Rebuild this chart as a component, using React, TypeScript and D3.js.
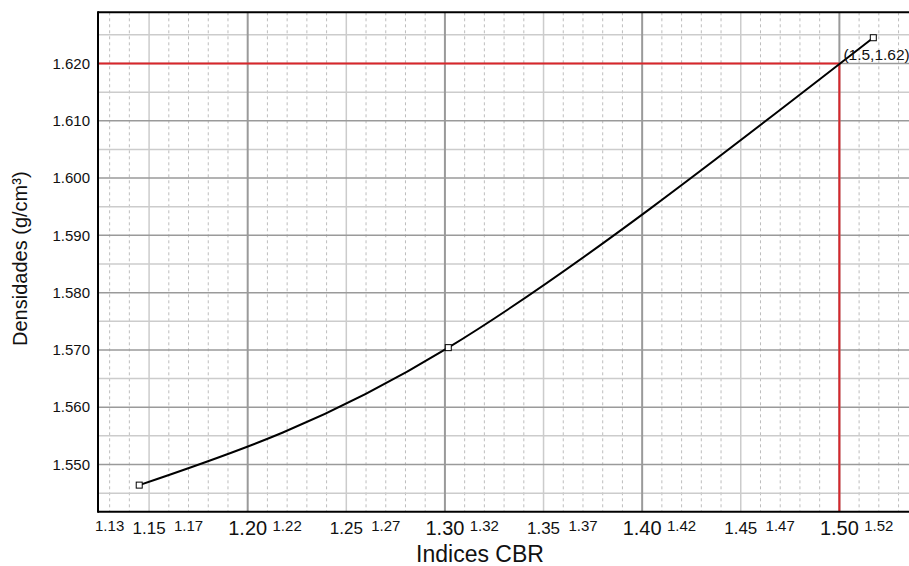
import React from "react";
import * as d3 from "d3";

const cbrValues = [1.145, 1.3017, 1.5172];
const densityValues = [1.5464, 1.5704, 1.6245];
const targetCBR = 1.5;
const targetDensity = 1.62;

const xSmallTicks = [1.13, 1.17, 1.22, 1.27, 1.32, 1.37, 1.42, 1.47, 1.52];
const xMediumTicks = [1.15, 1.25, 1.35, 1.45];
const xLargeTicks = [1.2, 1.3, 1.4, 1.5];
const xDashedGrid = [1.13, 1.14, 1.16, 1.17, 1.18, 1.19, 1.21, 1.22, 1.23, 1.24, 1.26, 1.27, 1.28, 1.29, 1.31, 1.32, 1.33, 1.34, 1.36, 1.37, 1.38, 1.39, 1.41, 1.42, 1.43, 1.44, 1.46, 1.47, 1.48, 1.49, 1.51, 1.52, 1.53];
const yTicks = [1.55, 1.56, 1.57, 1.58, 1.59, 1.6, 1.61, 1.62];
const yMinorGrid = [1.545, 1.555, 1.565, 1.575, 1.585, 1.595, 1.605, 1.615, 1.625];

const W = 909;
const H = 566;
const left = 98;
const right = 909;
const top = 12.3;
const bottom = 511.7;

export default function App() {
  const x = d3.scaleLinear().domain([1.1241, 1.5353]).range([left, right]);
  const y = d3.scaleLinear().domain([1.54176, 1.62894]).range([bottom, top]);
  const pts: [number, number][] = cbrValues.map((c, i) => [c, densityValues[i]]);
  const line = d3
    .line<[number, number]>()
    .x((d) => x(d[0]))
    .y((d) => y(d[1]))
    .curve(d3.curveNatural);
  const font = "'Liberation Sans', Arial, Helvetica, sans-serif";
  return (
    <svg width={W} height={H} style={{ position: "absolute", left: 0, top: 0 }} fontFamily={font}>
      <rect x={0} y={0} width={W} height={H} fill="#fff" />
      {xDashedGrid.map((v) => (
        <line key={"d" + v} x1={x(v)} x2={x(v)} y1={top} y2={bottom} stroke="#bdbdbd" strokeWidth={1} strokeDasharray="3,3" />
      ))}
      {yMinorGrid.map((v) => (
        <line key={"hm" + v} x1={left} x2={right} y1={y(v)} y2={y(v)} stroke="#cccccc" strokeWidth={1.5} />
      ))}
      {xMediumTicks.map((v) => (
        <line key={"vm" + v} x1={x(v)} x2={x(v)} y1={top} y2={bottom} stroke="#cccccc" strokeWidth={1.5} />
      ))}
      {yTicks.map((v) => (
        <line key={"hM" + v} x1={left} x2={right} y1={y(v)} y2={y(v)} stroke="#9a9a9a" strokeWidth={1.5} />
      ))}
      {xLargeTicks.map((v) => (
        <line key={"vM" + v} x1={x(v)} x2={x(v)} y1={top} y2={bottom} stroke="#9a9a9a" strokeWidth={2} />
      ))}
      <line x1={left} x2={x(targetCBR)} y1={y(targetDensity)} y2={y(targetDensity)} stroke="#d9262b" strokeWidth={2} />
      <line x1={x(targetCBR)} x2={x(targetCBR)} y1={y(targetDensity)} y2={bottom} stroke="#d9262b" strokeWidth={2} />
      <path d={line(pts) || ""} fill="none" stroke="#000" strokeWidth={2} />
      {pts.map((p, i) => (
        <rect key={"m" + i} x={x(p[0]) - 3} y={y(p[1]) - 3} width={6} height={6} fill="#fff" stroke="#000" strokeWidth={1} />
      ))}
      <text x={x(targetCBR) + 4} y={y(targetDensity) - 3.5} fontSize={15.5} fill="#111">
        {`(${targetCBR},${targetDensity})`}
      </text>
      <line x1={left} x2={right} y1={top} y2={top} stroke="#000" strokeWidth={2} />
      <line x1={left} x2={left} y1={top - 1} y2={bottom + 1} stroke="#000" strokeWidth={2} />
      <line x1={left} x2={right} y1={bottom} y2={bottom} stroke="#000" strokeWidth={2} />
      {yTicks.map((v) => (
        <text key={"yl" + v} x={90} y={y(v)} dy="0.35em" textAnchor="end" fontSize={15} fill="#111">
          {d3.format(".3f")(v)}
        </text>
      ))}
      {xSmallTicks.map((v) => (
        <text key={"xs" + v} x={x(v)} y={531} textAnchor="middle" fontSize={15} fill="#111">
          {d3.format(".2f")(v)}
        </text>
      ))}
      {xMediumTicks.map((v) => (
        <text key={"xm" + v} x={x(v)} y={533.5} textAnchor="middle" fontSize={17} fill="#111">
          {d3.format(".2f")(v)}
        </text>
      ))}
      {xLargeTicks.map((v) => (
        <text key={"xl" + v} x={x(v)} y={534.5} textAnchor="middle" fontSize={20} fill="#111">
          {d3.format(".2f")(v)}
        </text>
      ))}
      <text x={480} y={561.5} textAnchor="middle" fontSize={23} fill="#111">
        Indices CBR
      </text>
      <text transform="translate(27,258.7) rotate(-90)" textAnchor="middle" fontSize={20} fill="#111">
        Densidades (g/cm³)
      </text>
    </svg>
  );
}
